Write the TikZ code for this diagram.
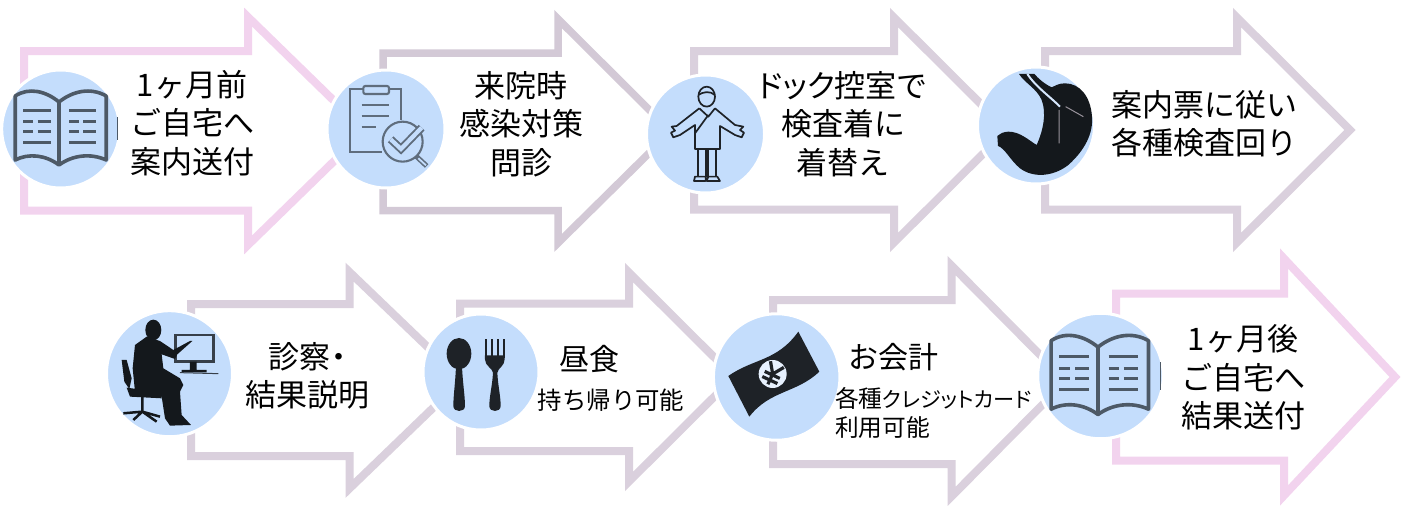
\documentclass[tikz,border=0pt]{standalone}
\usepackage{fontspec}
\newfontfamily\cjk{Noto Sans CJK JP}
\newfontfamily\cjkprop[RawFeature=+palt]{Noto Sans CJK JP}
\definecolor{arrowpink}{HTML}{F2D3EE}
\definecolor{arrowgrey}{HTML}{DAD0DD}
\definecolor{arrowdark}{HTML}{D3C9D6}
\definecolor{circleblue}{HTML}{C4DDFC}
\definecolor{iconslate}{HTML}{4D5966}
\definecolor{iconblack}{HTML}{14181C}
\definecolor{icondark}{HTML}{1E2227}
\tikzset{
  pinkarrow/.style={draw=arrowpink,line width=8pt,fill=white},
  greyarrow/.style={draw=arrowgrey,line width=8pt,fill=white},
  darkarrow/.style={draw=arrowdark,line width=7.5pt,fill=white},
  iconcircle/.style={circle,fill=circleblue,draw=white,line width=3pt,inner sep=0pt,minimum size=#1},
  bigtext/.style={font=\cjk\fontsize{31}{38.5}\selectfont,align=center,inner sep=0pt},
  midtext/.style={font=\cjk\fontsize{30}{37}\selectfont,align=center,inner sep=0pt},
  smalltext/.style={font=\cjk\fontsize{24.4}{29}\selectfont,align=left,inner sep=0pt},
  bookline/.style={draw=iconslate,line width=3.6pt,line join=round},
  bookrow/.style={draw=iconslate,line width=3pt},
  pics/openbook/.style={code={
    \draw[bookline] (-45.5,-33) .. controls (-32,-42) and (-15,-38) .. (-1.7,-27) .. controls (12,-38) and (30,-42) .. (45.5,-33) -- (45.5,31) .. controls (30,24) and (12,26) .. (-1.7,36) .. controls (-15,26) and (-32,24) .. (-45.5,31) -- cycle (-1.7,-27) -- (-1.7,36);
    \foreach \rowy in {-18.3,13} {
      \draw[bookrow] (-37.7,\rowy) -- (-9.7,\rowy) (8.3,\rowy) -- (35.3,\rowy);
    }
    \foreach \rowy in {-7.3,2.7} {
      \draw[bookrow] (-37.7,\rowy) -- (-27.5,\rowy) (-23,\rowy) -- (-9.7,\rowy) (8.3,\rowy) -- (18,\rowy) (22.5,\rowy) -- (35.3,\rowy);
    }
  }}
}
\begin{document}
\begin{tikzpicture}[x=1pt,y=-1pt]
\useasboundingbox (0,0) rectangle (1401,506);
% top row arrows
\draw[pinkarrow] (24,51) -- (248,51) -- (248,17) -- (365,131) -- (248,245) -- (248,210.5) -- (24,210.5) -- cycle;
\draw[darkarrow] (383,53) -- (558,53) -- (558,19) -- (671,131.5) -- (558,243) -- (558,210.5) -- (383,210.5) -- cycle;
\draw[greyarrow] (694,51) -- (894,51) -- (894,17.5) -- (1007,130) -- (894,242.5) -- (894,209.5) -- (694,209.5) -- cycle;
\draw[greyarrow] (1045,51) -- (1237,51) -- (1237,17.5) -- (1350,130) -- (1237,242.5) -- (1237,209.5) -- (1045,209.5) -- cycle;
% bottom row arrows
\draw[greyarrow] (191,304) -- (349.5,304) -- (349.5,272) -- (462,380) -- (349.5,488.5) -- (349.5,456) -- (191,456) -- cycle;
\draw[greyarrow] (460,303.5) -- (629,303.5) -- (629,272.5) -- (734,377) -- (629,481.5) -- (629,451) -- (460,451) -- cycle;
\draw[greyarrow] (773,300) -- (951.5,300) -- (951.5,265.5) -- (1066,381) -- (951.5,496.5) -- (951.5,464) -- (773,464) -- cycle;
\draw[pinkarrow] (1116,293.5) -- (1284,293.5) -- (1284,258.5) -- (1395,377) -- (1284,495.5) -- (1284,460.7) -- (1116,460.7) -- cycle;
% circles
\node[iconcircle=118pt] (notice) at (60.7,129) {};
\node[iconcircle=118pt] (arrival) at (386,129) {};
\node[iconcircle=118pt] (changing) at (705.5,134) {};
\node[iconcircle=117pt] (rounds) at (1036,125.5) {};
\node[iconcircle=126pt] (consult) at (169.5,373.7) {};
\node[iconcircle=116pt] (lunch) at (481,372) {};
\node[iconcircle=126.5pt] (payment) at (776.7,377) {};
\node[iconcircle=125.5pt] (report) at (1100.5,376) {};
% book icons
\pic (bookone) at (60.7,129) {openbook};
\draw[draw=iconslate,line width=1pt] (117.6,117) .. controls (118.4,128) .. (117.6,140);
\pic[scale=1.07] (booktwo) at (1099.8,376) {openbook};
\draw[draw=iconslate,line width=1pt] (1160.8,362) .. controls (1161.6,376) .. (1160.8,390);
% clipboard icon
\begin{scope}[shift={(320,0)},x=0.3333pt,y=-0.3333pt,draw=iconslate!85!circleblue,line width=2.1pt]
\draw (185,455) -- (90,455) -- (90,268) -- (130,268) (207,268) -- (242,268) -- (242,360);
\draw[rounded corners=2pt] (130,258) rectangle (207,282);
\draw (125,315) -- (208,315) (125,348) -- (208,348) (125,380) -- (168,380);
\draw (248,425) circle (60);
\draw[line width=5pt] (290,470) -- (320,498);
\draw[draw=circleblue,line width=1.8pt] (295,475) -- (318,496);
\draw[line width=8pt,line join=miter] (212,418) -- (243,447) -- (305,383);
\draw[draw=circleblue,line width=4.2pt,line join=miter] (212,418) -- (243,447) -- (305,383);
\end{scope}
% person icon
\begin{scope}[shift={(640,0)},x=0.3333pt,y=-0.3333pt,draw=icondark,line width=1.7pt,line join=round]
\draw (200,290) ellipse (25 and 30);
\draw (175,285) .. controls (190,275) and (210,272) .. (225,285);
\draw (178,325) -- (110,378) -- (95,380) -- (105,392) -- (93,398) -- (100,412) -- (120,405) -- (165,375) -- (165,447) -- (240,447) -- (240,378) -- (285,405) -- (305,412) -- (312,398) -- (300,390) -- (310,380) -- (285,375) -- (225,325);
\draw (178,325) -- (205,350) -- (225,325) (205,345) -- (165,400);
\draw (175,447) -- (175,530) (197,447) -- (197,530) (205,447) -- (205,530) (228,447) -- (228,530);
\draw (162,543) -- (165,530) -- (197,530) -- (197,543) -- cycle (200,543) -- (205,530) -- (232,530) -- (240,543) -- cycle;
\end{scope}
% stomach icon
\begin{scope}[shift={(1000,0)},x=0.3333pt,y=-0.3333pt]
\fill[iconblack] (57,222) -- (103,222) .. controls (115,235) and (130,250) .. (155,262) .. controls (165,258) and (175,250) .. (195,250) .. controls (240,250) and (272,290) .. (276,350) .. controls (280,400) and (255,450) .. (205,495) .. controls (160,530) and (100,535) .. (60,505) .. controls (30,480) and (15,445) .. (-6,438) -- (-8,408) .. controls (0,400) and (10,396) .. (25,395) .. controls (60,395) and (85,420) .. (110,435) .. controls (130,390) and (140,340) .. (125,300) .. controls (110,265) and (75,250) .. (57,222) -- cycle;
\draw[circleblue!70!white,line width=2pt] (82,222) .. controls (105,258) and (150,290) .. (180,320);
\draw[arrowgrey!70!black,line width=1pt] (177,330) -- (177,430) (197,320) -- (250,350);
\end{scope}
% man at the computer icon
\begin{scope}[shift={(90,255)},x=0.3333pt,y=-0.3333pt]
\fill[iconblack] (190,225) ellipse (24 and 31);
\draw[iconblack!80!circleblue,line width=2.5pt] (256,240) rectangle (370,320);
\fill[iconblack] (170,245) -- (210,258) -- (250,285) -- (300,258) -- (307,258) -- (262,298) -- (255,312) -- (215,298) -- (220,340) -- (270,370) -- (280,390) -- (270,410) -- (275,480) -- (303,510) -- (240,512) -- (225,490) -- (215,425) -- (135,410) -- (128,340) -- (135,270) -- cycle;
\fill[iconblack] (95,315) -- (110,315) -- (125,370) -- (118,402) -- (103,380) -- cycle;
\fill[iconblack] (110,398) -- (215,412) -- (215,430) -- (120,425) -- cycle;
\draw[iconblack,line width=2.5pt] (157,425) -- (157,470) (100,475) -- (157,470) -- (210,485) (157,470) -- (130,495) (157,470) -- (200,500);
\fill[iconblack] (300,320) rectangle (320,345) (275,345) rectangle (350,352);
\draw[iconblack!80!circleblue,line width=1pt] (270,353) -- (385,356);
\end{scope}
% spoon and fork icon
\begin{scope}[shift={(410,256)},x=0.3333pt,y=-0.3333pt]
\fill[icondark] (147,293) ellipse (37 and 47);
\fill[icondark] (138,330) .. controls (136,380) and (130,420) .. (130,450) .. controls (130,470) and (165,470) .. (165,450) .. controls (165,420) and (158,380) .. (156,330) -- cycle;
\draw[icondark,line width=2pt] (228,250) -- (228,305) (246,250) -- (246,305) (264,250) -- (264,305) (281,250) -- (281,305);
\fill[icondark] (225,298) -- (284,298) -- (284,310) .. controls (284,330) and (265,335) .. (262,350) .. controls (264,390) and (272,420) .. (272,450) .. controls (272,470) and (238,470) .. (238,450) .. controls (238,420) and (247,390) .. (249,350) .. controls (246,335) and (225,330) .. (225,310) -- cycle;
\end{scope}
% banknote icon
\begin{scope}[shift={(700,250)},x=0.3333pt,y=-0.3333pt]
\fill[icondark] (85,378) .. controls (160,325) and (230,335) .. (295,245) -- (358,365) .. controls (290,430) and (210,420) .. (148,500) -- cycle;
\fill[circleblue!40!white] (218,372) circle (42);
\draw[icondark,line width=3.2pt,rotate around={-25:(218,372)}] (196,340) -- (218,372) -- (240,340) (218,372) -- (218,406) (193,375) -- (243,375) (193,392) -- (243,392);
\end{scope}
% labels
\node[bigtext] (noticetext) at (192,123) {1ヶ月前\\ご自宅へ\\案内送付};
\node[bigtext] (arrivaltext) at (521,124) {来院時\\感染対策\\問診};
\node[bigtext] (changingtext) at (843,124) {{\cjkprop ドック}控室で\\検査着に\\着替え};
\node[bigtext] (roundstext) at (1204,124) {案内票に従い\\各種検査回り};
\node[bigtext] (consulttext) at (307.5,376) {\baselineskip=37pt {\cjkprop 診察・}\\結果説明};
\node[midtext] (lunchtitle) at (589,358.7) {昼食};
\node[smalltext] (lunchtext) at (611,400) {持ち帰り可能};
\node[midtext] (paytitle) at (893.5,357) {お会計};
\node[smalltext,anchor=west,font=\cjkprop\fontsize{23.7}{29}\selectfont] (paytext) at (835,412.5) {各種{\fontsize{21.2}{29}\selectfont クレジットカード}\\利用可能};
\node[bigtext] (reporttext) at (1243,377.5) {1ヶ月後\\ご自宅へ\\結果送付};
\end{tikzpicture}
\end{document}
